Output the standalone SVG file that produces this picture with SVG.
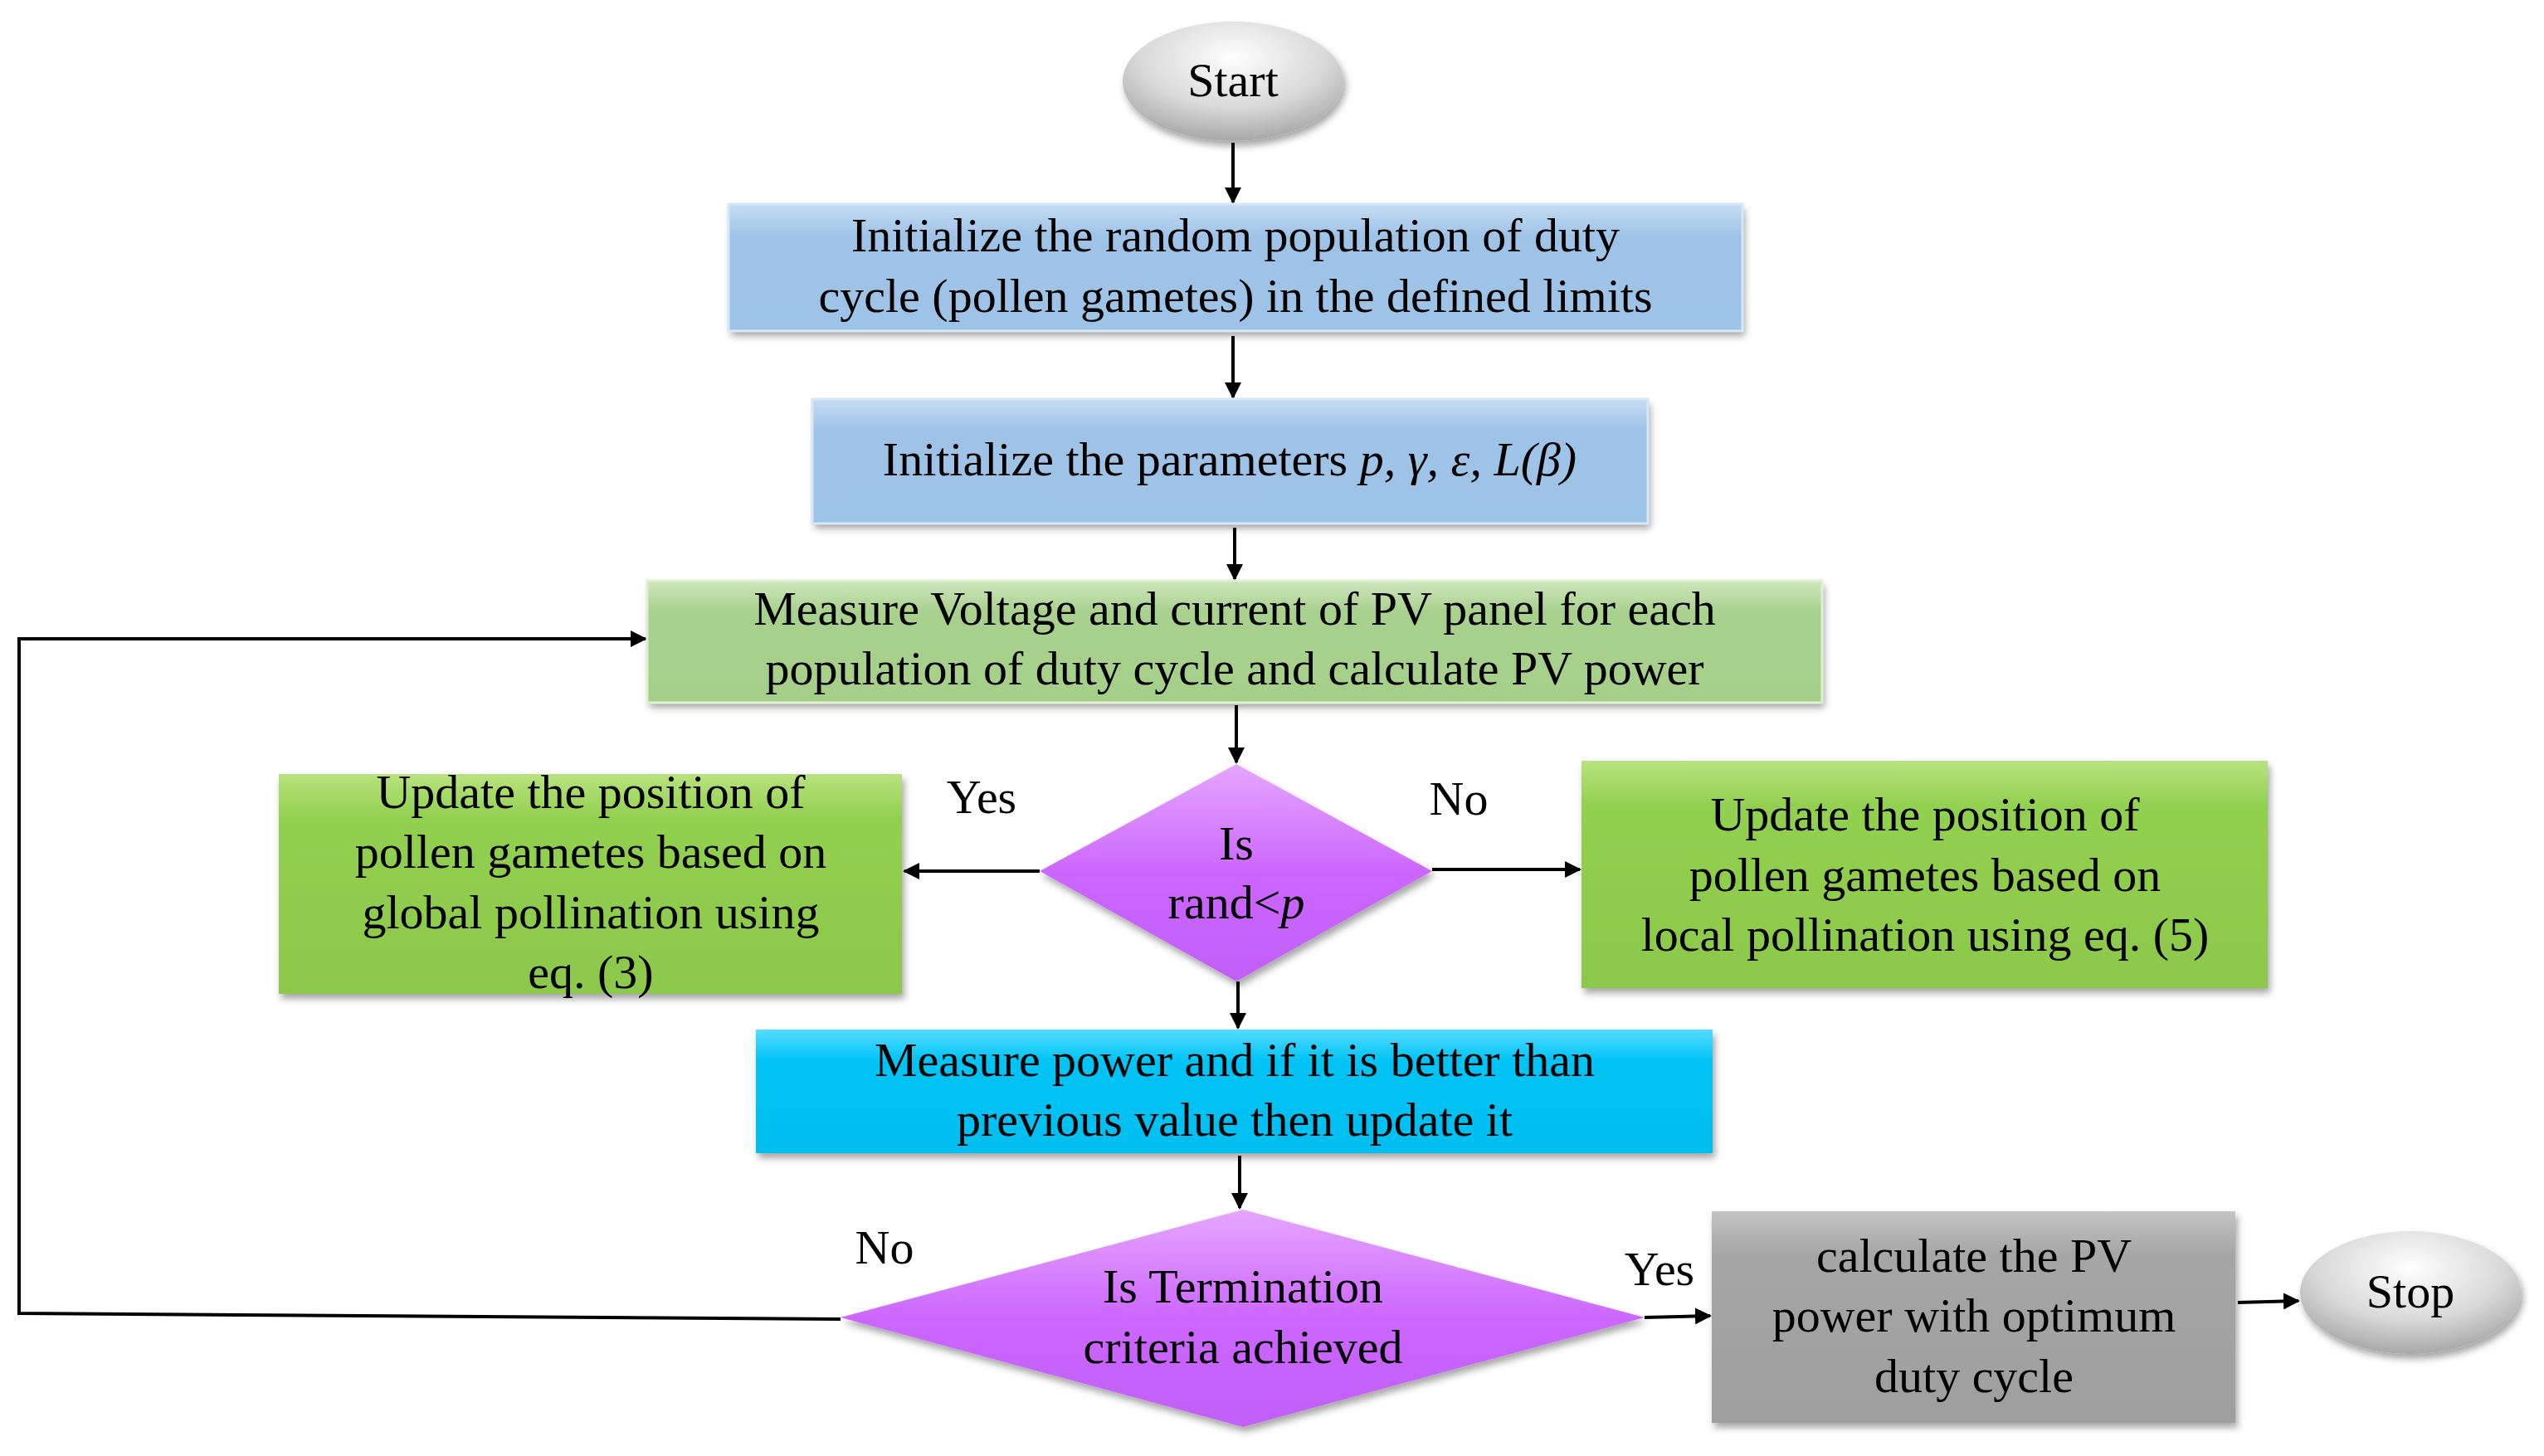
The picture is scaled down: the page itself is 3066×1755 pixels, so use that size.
<svg xmlns="http://www.w3.org/2000/svg" width="3066" height="1755" viewBox="0 0 3066 1755">
<style>
text{font-family:"Liberation Serif","DejaVu Serif",serif;font-size:58px;fill:#000;text-anchor:middle}
.c{stroke:#000;stroke-width:4;fill:none}
.lab{text-anchor:middle}
</style>
<defs>
<marker id="a" viewBox="0 0 10 10" refX="9" refY="5" markerWidth="5" markerHeight="5" orient="auto"><path d="M0,0L10,5L0,10z" fill="#000"/></marker>
<linearGradient id="blue" x1="0" y1="0" x2="0" y2="1"><stop offset="0" stop-color="#c5ddf3"/><stop offset="0.25" stop-color="#9fc3e7"/><stop offset="1" stop-color="#9dc3e6"/></linearGradient>
<linearGradient id="lg" x1="0" y1="0" x2="0" y2="1"><stop offset="0" stop-color="#cfe6bd"/><stop offset="0.25" stop-color="#a9d18e"/><stop offset="1" stop-color="#a5cf89"/></linearGradient>
<linearGradient id="g" x1="0" y1="0" x2="0" y2="1"><stop offset="0" stop-color="#b8e27e"/><stop offset="0.2" stop-color="#92d050"/><stop offset="1" stop-color="#8cc84a"/></linearGradient>
<linearGradient id="cy" x1="0" y1="0" x2="0" y2="1"><stop offset="0" stop-color="#55dcff"/><stop offset="0.25" stop-color="#00c4f5"/><stop offset="1" stop-color="#00bff0"/></linearGradient>
<linearGradient id="gr" x1="0" y1="0" x2="0" y2="1"><stop offset="0" stop-color="#c4c4c4"/><stop offset="0.2" stop-color="#a6a6a6"/><stop offset="1" stop-color="#9e9e9e"/></linearGradient>
<linearGradient id="mg" x1="0" y1="0" x2="0" y2="1"><stop offset="0" stop-color="#e6a6ff"/><stop offset="0.5" stop-color="#cc66ff"/><stop offset="1" stop-color="#c060f5"/></linearGradient>
<radialGradient id="sph" cx="0.5" cy="0.3" r="0.7"><stop offset="0" stop-color="#ffffff"/><stop offset="0.6" stop-color="#d9d9d9"/><stop offset="1" stop-color="#a8a8a8"/></radialGradient>
<filter id="sh" x="-5%" y="-5%" width="110%" height="115%"><feDropShadow dx="3" dy="6" stdDeviation="4" flood-color="#000" flood-opacity="0.35"/></filter>
</defs>
<g id="connectors">
<line class="c" x1="1486" y1="172" x2="1486" y2="244" marker-end="url(#a)"/>
<line class="c" x1="1486" y1="405" x2="1486" y2="479" marker-end="url(#a)"/>
<line class="c" x1="1488" y1="636" x2="1488" y2="698" marker-end="url(#a)"/>
<line class="c" x1="1490" y1="850" x2="1490" y2="919" marker-end="url(#a)"/>
<line class="c" x1="1253" y1="1050" x2="1090" y2="1050" marker-end="url(#a)"/>
<line class="c" x1="1726" y1="1048" x2="1904" y2="1048" marker-end="url(#a)"/>
<line class="c" x1="1492" y1="1183" x2="1492" y2="1239" marker-end="url(#a)"/>
<line class="c" x1="1494" y1="1393" x2="1494" y2="1456" marker-end="url(#a)"/>
<line class="c" x1="1982" y1="1588" x2="2061" y2="1586" marker-end="url(#a)"/>
<line class="c" x1="2697" y1="1570" x2="2770" y2="1568" marker-end="url(#a)"/>
<polyline class="c" points="1013,1590 23,1583 23,770 778,770" marker-end="url(#a)"/>
<text x="1183" y="980">Yes</text>
<text x="1758" y="982">No</text>
<text x="1066" y="1523">No</text>
<text x="2000" y="1549">Yes</text>
</g>
<g id="start"><ellipse cx="1486" cy="98" rx="133" ry="72" fill="url(#sph)" filter="url(#sh)"/><text x="1486" y="116">Start</text></g>
<g id="init1"><rect x="878" y="246" width="1222" height="153" fill="url(#blue)" filter="url(#sh)"/><rect x="878" y="246" width="1222" height="153" fill="none" stroke="#d6e8f8" stroke-width="3"/><text x="1489" y="303">Initialize the random population of duty</text><text x="1489" y="376">cycle (pollen gametes) in the defined limits</text></g>
<g id="init2"><rect x="979" y="481" width="1007" height="150" fill="url(#blue)" filter="url(#sh)"/><rect x="979" y="481" width="1007" height="150" fill="none" stroke="#d6e8f8" stroke-width="3"/><text x="1482" y="573">Initialize the parameters <tspan font-style="italic">p, γ, ε, L(β)</tspan></text></g>
<g id="measure"><rect x="780" y="700" width="1416" height="147" fill="url(#lg)" filter="url(#sh)"/><rect x="780" y="700" width="1416" height="147" fill="none" stroke="#dff0d2" stroke-width="3"/><text x="1488" y="753">Measure Voltage and current of PV panel for each</text><text x="1488" y="825">population of duty cycle and calculate PV power</text></g>
<g id="dec1"><polygon points="1490,921 1726,1050 1490,1183 1253,1050" fill="url(#mg)" filter="url(#sh)"/><text x="1490" y="1036">Is</text><text x="1490" y="1107">rand&lt;<tspan font-style="italic">p</tspan></text></g>
<g id="global"><rect x="336" y="933" width="751" height="265" fill="url(#g)" filter="url(#sh)"/><text x="712" y="974">Update the position of</text><text x="712" y="1046">pollen gametes based on</text><text x="712" y="1119">global pollination using</text><text x="712" y="1191">eq. (3)</text></g>
<g id="local"><rect x="1906" y="917" width="827" height="274" fill="url(#g)" filter="url(#sh)"/><text x="2320" y="1001">Update the position of</text><text x="2320" y="1074">pollen gametes based on</text><text x="2320" y="1146">local pollination using eq. (5)</text></g>
<g id="power"><rect x="911" y="1241" width="1153" height="149" fill="url(#cy)" filter="url(#sh)"/><text x="1488" y="1297">Measure power and if it is better than</text><text x="1488" y="1369">previous value then update it</text></g>
<g id="dec2"><polygon points="1498,1458 1982,1588 1498,1720 1013,1588" fill="url(#mg)" filter="url(#sh)"/><text x="1498" y="1570">Is Termination</text><text x="1498" y="1643">criteria achieved</text></g>
<g id="calc"><rect x="2063" y="1460" width="631" height="255" fill="url(#gr)" filter="url(#sh)"/><text x="2379" y="1533">calculate the PV</text><text x="2379" y="1605">power with optimum</text><text x="2379" y="1678">duty cycle</text></g>
<g id="stop"><ellipse cx="2905" cy="1558" rx="133" ry="74" fill="url(#sph)" filter="url(#sh)"/><text x="2905" y="1576">Stop</text></g>
</svg>
